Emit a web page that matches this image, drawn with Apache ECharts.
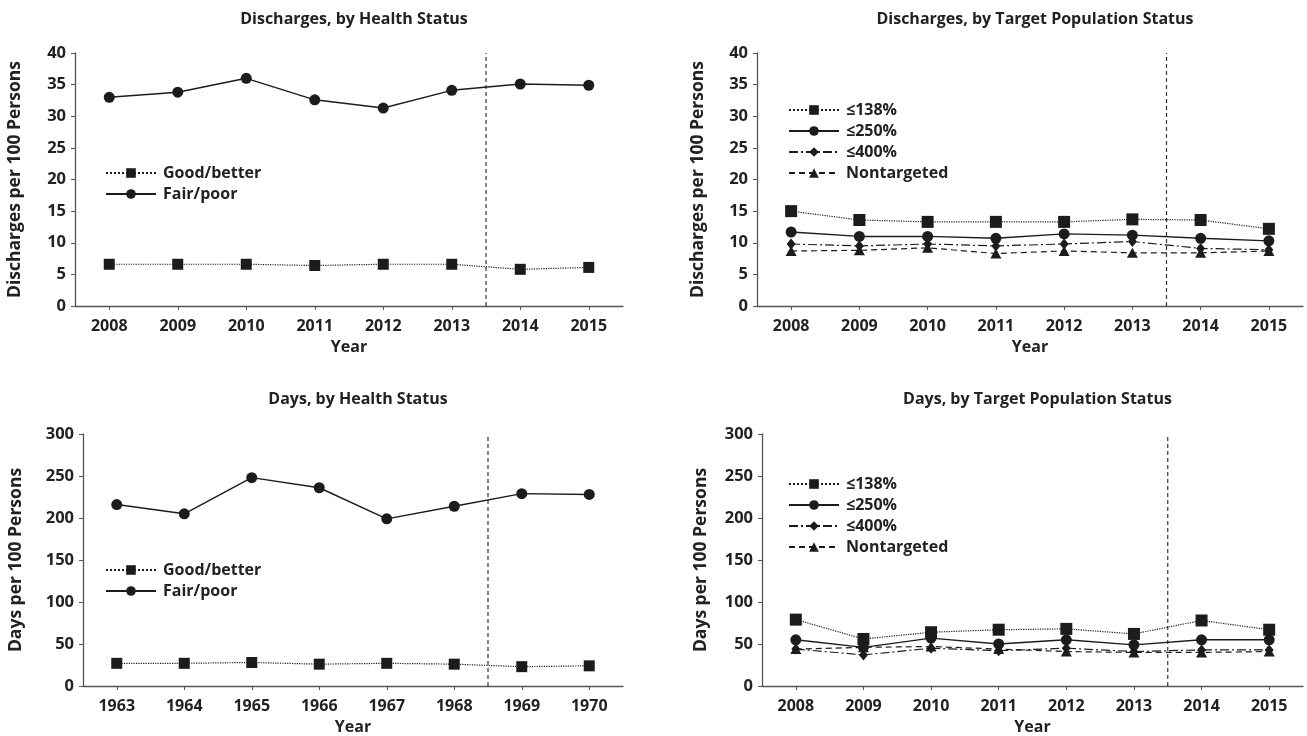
<!DOCTYPE html>
<html>
<head>
<meta charset="utf-8">
<script src="https://cdn.jsdelivr.net/npm/echarts@6/dist/echarts.min.js"></script>
<style>html,body{margin:0;padding:0;background:#fff;}#c{width:1307px;height:736px;}</style>
</head>
<body>
<div id="c"></div>
<script>
// ---- data ----
const yearsA = ['2008','2009','2010','2011','2012','2013','2014','2015'];
const yearsB = ['1963','1964','1965','1966','1967','1968','1969','1970'];

const titles = ['Discharges, by Health Status','Discharges, by Target Population Status','Days, by Health Status','Days, by Target Population Status'];
const yNames = ['Discharges per 100 Persons','Discharges per 100 Persons','Days per 100 Persons','Days per 100 Persons'];
const healthNames = ['Good/better','Fair/poor'];
const targetNames = ['\u2264138%','\u2264250%','\u2264400%','Nontargeted'];

// Discharges, by health status
const dischGood = [6.6, 6.6, 6.6, 6.4, 6.6, 6.6, 5.8, 6.1];
const dischFair = [33.0, 33.8, 36.0, 32.6, 31.3, 34.1, 35.1, 34.9];
// Discharges, by target population
const disch138 = [15.0, 13.6, 13.3, 13.3, 13.3, 13.7, 13.6, 12.2];
const disch250 = [11.7, 11.0, 11.0, 10.7, 11.4, 11.2, 10.7, 10.3];
const disch400 = [9.8, 9.5, 9.8, 9.5, 9.8, 10.2, 9.1, 8.9];
const dischNon = [8.7, 8.8, 9.2, 8.3, 8.7, 8.4, 8.4, 8.7];
// Days, by health status
const daysGood = [27, 27, 28, 26, 27, 26, 23, 24];
const daysFair = [216, 205, 248, 236, 199, 214, 229, 228];
// Days, by target population
const days138 = [79, 56, 64, 67, 68, 62, 78, 67];
const days250 = [55, 46, 57, 50, 55, 49, 55, 55];
const days400 = [44, 37, 45, 42, 45, 41, 43, 43];
const daysNon = [44, 46, 47, 44, 41, 40, 40, 41];

const yMax = [40, 40, 300, 300];
const yInterval = [5, 5, 50, 50];
const cutoffPos = 6; // boundary between 6th and 7th year (band units)

// ---- layout / style ----
const FONT = 'Open Sans';
const INK = '#1c1c1c';
const AXIS = '#555';
const grids = [
  {left: 75, top: 53, width: 548, height: 253},
  {left: 757, top: 53, width: 546, height: 253},
  {left: 83, top: 434, width: 540, height: 252},
  {left: 762, top: 434, width: 541, height: 252}
];
const nameGaps = [51, 50, 58, 52];

const styles = {
  good: {lineStyle: {type: 'dotted', width: 1.2}, symbol: 'rect', symbolSize: 11},
  fair: {lineStyle: {type: 'solid', width: 1.4}, symbol: 'circle', symbolSize: 11},
  t138: {lineStyle: {type: 'dotted', width: 1.2}, symbol: 'rect', symbolSize: 12},
  t250: {lineStyle: {type: 'solid', width: 1.4}, symbol: 'circle', symbolSize: 11},
  t400: {lineStyle: {type: [9, 3, 2, 3], width: 1.2}, symbol: 'diamond', symbolSize: [9, 11]},
  tnon: {lineStyle: {type: [6, 4], width: 1.2}, symbol: 'triangle', symbolSize: [11, 10]}
};

function mkSeries(name, data, st, gi) {
  return {
    type: 'line', name: name, data: data,
    xAxisIndex: gi, yAxisIndex: gi,
    symbol: st.symbol, symbolSize: st.symbolSize,
    itemStyle: {color: INK, borderWidth: 0},
    lineStyle: Object.assign({color: INK}, st.lineStyle),
    emphasis: {disabled: true},
    z: 3
  };
}

const option = {
  animation: false,
  backgroundColor: '#fff',
  textStyle: {fontFamily: FONT},
  title: titles.map((t, i) => ({
    text: t,
    left: grids[i].left + grids[i].width / 2,
    top: i < 2 ? 6 : 386,
    textAlign: 'center',
    textStyle: {fontFamily: FONT, fontWeight: 'bold', fontSize: 16, color: '#222'}
  })),
  grid: grids.map(g => Object.assign({outerBoundsMode: 'none', containLabel: false}, g)),
  xAxis: [0, 1, 2, 3].map(i => ({
    type: 'category', gridIndex: i,
    data: i === 2 ? yearsB : yearsA,
    boundaryGap: true,
    name: 'Year', nameLocation: 'middle', nameGap: 33,
    nameTextStyle: {fontFamily: FONT, fontWeight: 'bold', fontSize: 16, color: '#222'},
    axisLine: {lineStyle: {color: AXIS, width: 1.3}},
    axisTick: {show: true, alignWithLabel: true, length: 4, lineStyle: {color: AXIS}},
    axisLabel: {fontFamily: FONT, fontWeight: 'bold', fontSize: 16, color: '#222', margin: 12, interval: 0},
    splitLine: {show: false}
  })).concat([0, 1, 2, 3].map(i => ({
    type: 'value', gridIndex: i, min: 0, max: 8, show: false
  }))),
  yAxis: [0, 1, 2, 3].map(i => ({
    type: 'value', gridIndex: i,
    min: 0, max: yMax[i], interval: yInterval[i],
    name: yNames[i], nameLocation: 'middle', nameGap: nameGaps[i], nameRotate: 90,
    nameTextStyle: {fontFamily: FONT, fontWeight: 'bold', fontSize: 17.5, color: '#222'},
    axisLine: {show: true, lineStyle: {color: AXIS, width: 1.3}},
    axisTick: {show: true, length: 4, lineStyle: {color: AXIS}},
    axisLabel: {fontFamily: FONT, fontWeight: 'bold', fontSize: 16.5, color: '#222', margin: 9},
    splitLine: {show: false}
  })),
  legend: [
    {data: healthNames, left: 100, top: 160},
    {data: targetNames, left: 783, top: 97},
    {data: healthNames, left: 100, top: 557},
    {data: targetNames, left: 783, top: 471}
  ].map((l, i) => Object.assign({
    orient: 'vertical',
    itemWidth: 50, itemHeight: 12,
    itemGap: 5,
    selectedMode: false,
    textStyle: {fontFamily: FONT, fontWeight: 'bold', fontSize: 16, color: '#222', lineHeight: 16, padding: [0, 0, 0, 2]}
  }, l)),
  series: [
    mkSeries(healthNames[0], dischGood, styles.good, 0),
    mkSeries(healthNames[1], dischFair, styles.fair, 0),
    mkSeries(targetNames[0], disch138, styles.t138, 1),
    mkSeries(targetNames[1], disch250, styles.t250, 1),
    mkSeries(targetNames[2], disch400, styles.t400, 1),
    mkSeries(targetNames[3], dischNon, styles.tnon, 1),
    mkSeries(healthNames[0], daysGood, styles.good, 2),
    mkSeries(healthNames[1], daysFair, styles.fair, 2),
    mkSeries(targetNames[0], days138, styles.t138, 3),
    mkSeries(targetNames[1], days250, styles.t250, 3),
    mkSeries(targetNames[2], days400, styles.t400, 3),
    mkSeries(targetNames[3], daysNon, styles.tnon, 3)
  ].concat([0, 1, 2, 3].map(i => ({
    type: 'line', name: 'cutoff' + i,
    xAxisIndex: 4 + i, yAxisIndex: i,
    data: [[cutoffPos, 0], [cutoffPos, yMax[i]]],
    symbol: 'none',
    lineStyle: {color: '#333', width: 1.2, type: [4, 3]},
    emphasis: {disabled: true},
    silent: true, z: 2
  })))
};

const chart = echarts.init(document.getElementById('c'), null, {renderer: 'canvas'});
chart.setOption(option);
</script>
</body>
</html>
